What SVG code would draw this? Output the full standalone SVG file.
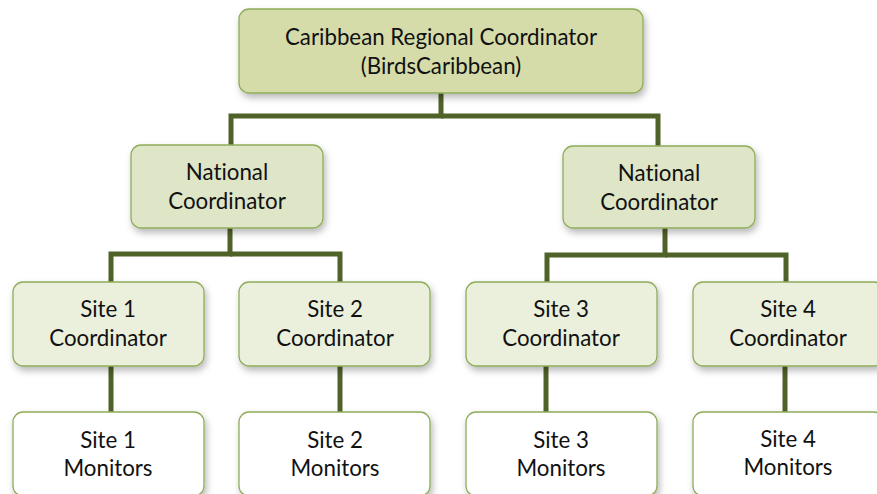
<svg xmlns="http://www.w3.org/2000/svg" width="877" height="494" viewBox="0 0 877 494">
<defs>
<filter id="sh" x="-10%" y="-10%" width="125%" height="135%">
<feDropShadow dx="2" dy="4" stdDeviation="3.5" flood-color="#000" flood-opacity="0.28"/>
</filter>
<style>
.box{stroke:#8fac5a;stroke-width:1.3;filter:url(#sh)}
.l0{fill:#d5dca9}
.l1{fill:#dee6c7}
.l2{fill:#ebf0dc}
.l3{fill:#ffffff}
text{font-family:Lato,"Liberation Sans",sans-serif;font-size:22.3px;fill:#111;text-anchor:middle;font-variant-ligatures:none}
.c{fill:none;stroke:#4f6228;stroke-width:5;stroke-linejoin:miter}
</style>
</defs>
<rect width="877" height="494" fill="#fff"/>
<g id="connectors">
<polyline class="c" points="441,93 441,116 231,116 231,146"/>
<polyline class="c" points="441,116 658,116 658,146"/>
<polyline class="c" points="230,228 230,254 111,254 111,283"/>
<polyline class="c" points="230,254 340,254 340,283"/>
<polyline class="c" points="665,228 665,255 547,255 547,283"/>
<polyline class="c" points="665,255 786,255 786,283"/>
<line class="c" x1="111" y1="366" x2="111" y2="412"/>
<line class="c" x1="340" y1="366" x2="340" y2="412"/>
<line class="c" x1="546" y1="366" x2="546" y2="412"/>
<line class="c" x1="785" y1="366" x2="785" y2="412"/>
</g>
<g id="regional">
<rect class="box l0" x="239" y="9" width="404" height="84" rx="10"/>
<text x="441" y="45">Caribbean Regional Coordinator</text>
<text x="441" y="74">(BirdsCaribbean)</text>
</g>
<g id="national1">
<rect class="box l1" x="131" y="145" width="192" height="83" rx="10"/>
<text x="227" y="180">National</text>
<text x="227" y="209">Coordinator</text>
</g>
<g id="national2">
<rect class="box l1" x="563" y="146" width="192" height="82" rx="10"/>
<text x="659" y="181">National</text>
<text x="659" y="210">Coordinator</text>
</g>
<g id="site1coord">
<rect class="box l2" x="13" y="282" width="191" height="84" rx="10"/>
<text x="108" y="317">Site 1</text>
<text x="108" y="346">Coordinator</text>
</g>
<g id="site2coord">
<rect class="box l2" x="239" y="282" width="191" height="84" rx="10"/>
<text x="335" y="317">Site 2</text>
<text x="335" y="346">Coordinator</text>
</g>
<g id="site3coord">
<rect class="box l2" x="466" y="282" width="191" height="84" rx="10"/>
<text x="561" y="317">Site 3</text>
<text x="561" y="346">Coordinator</text>
</g>
<g id="site4coord">
<rect class="box l2" x="693" y="282" width="191" height="84" rx="10"/>
<text x="788" y="317">Site 4</text>
<text x="788" y="346">Coordinator</text>
</g>
<g id="site1mon">
<rect class="box l3" x="13" y="412" width="191" height="84" rx="10"/>
<text x="108" y="448">Site 1</text>
<text x="108" y="476">Monitors</text>
</g>
<g id="site2mon">
<rect class="box l3" x="239" y="412" width="191" height="84" rx="10"/>
<text x="335" y="448">Site 2</text>
<text x="335" y="476">Monitors</text>
</g>
<g id="site3mon">
<rect class="box l3" x="466" y="412" width="191" height="84" rx="10"/>
<text x="561" y="448">Site 3</text>
<text x="561" y="476">Monitors</text>
</g>
<g id="site4mon">
<rect class="box l3" x="693" y="412" width="191" height="84" rx="10"/>
<text x="788" y="447">Site 4</text>
<text x="788" y="475">Monitors</text>
</g>
</svg>
